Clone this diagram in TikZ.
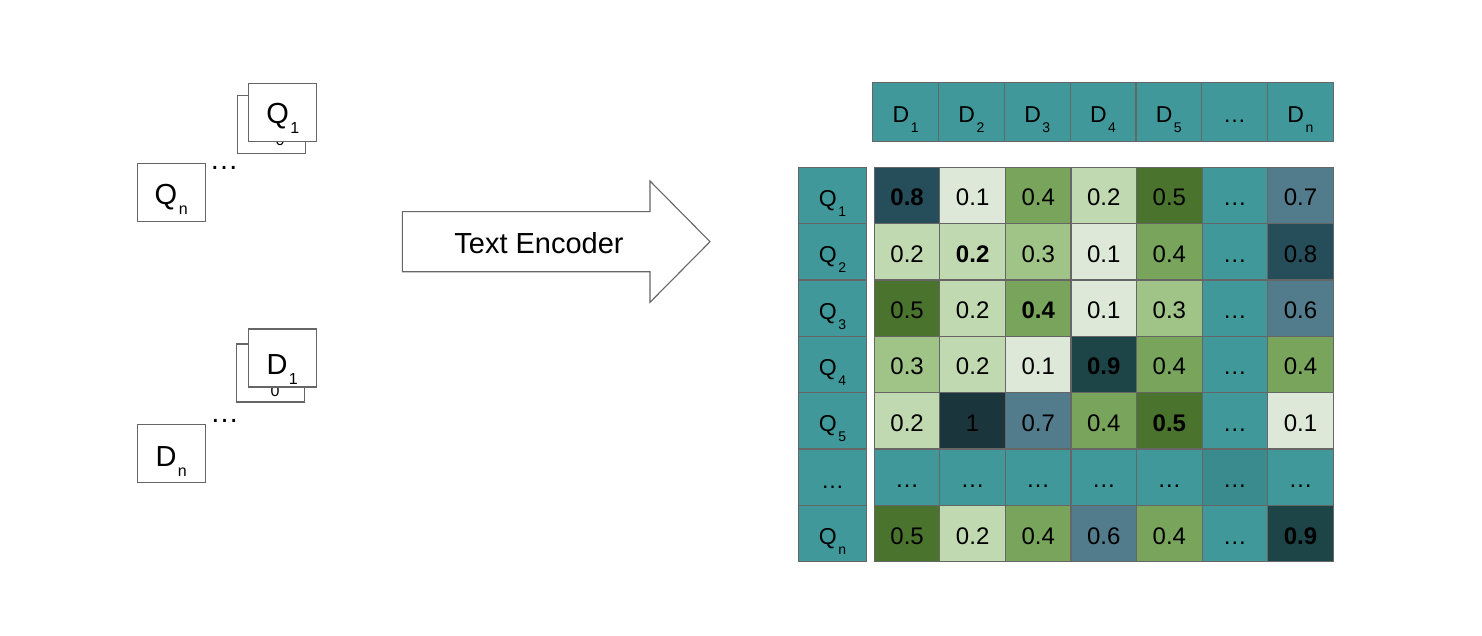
\documentclass[tikz,border=0pt]{standalone}
\usepackage{fontspec}
\setmainfont{Liberation Sans}
\definecolor{teal0}{HTML}{41989A}
\definecolor{teal1}{HTML}{3A8B8E}
\definecolor{v01}{HTML}{DEE8D8}
\definecolor{v02}{HTML}{C1D9B1}
\definecolor{v03}{HTML}{A0C487}
\definecolor{v04}{HTML}{79A45B}
\definecolor{v05}{HTML}{4A732E}
\definecolor{v06}{HTML}{527C8C}
\definecolor{v07}{HTML}{527C8C}
\definecolor{v08}{HTML}{264D5A}
\definecolor{v09}{HTML}{1D4447}
\definecolor{v10}{HTML}{1A353C}
\definecolor{edgegray}{HTML}{666666}
\newcommand\mylab[4]{#1\kern1.5pt\raisebox{-#4}{\fontsize{#3}{#3}\selectfont #2}}
\newcommand\B[1]{\textbf{#1}}
\begin{document}
\begin{tikzpicture}[x=1pt,y=-1pt,
  cellbox/.style={draw=edgegray, line width=1.2pt, minimum width=65.57pt, minimum height=56.34pt,
    inner sep=0pt, outer sep=0pt, text height=21pt, text depth=0pt, font=\fontsize{24}{28}\selectfont},
  qbox/.style={cellbox, fill=teal0, minimum width=68.4pt, text height=22pt, font=\fontsize{23}{27}\selectfont},
  dbox/.style={cellbox, fill=teal0, minimum width=65.8pt, minimum height=59pt, text height=22pt, font=\fontsize{23}{27}\selectfont},
  docbox/.style={draw=edgegray, line width=1.2pt, fill=white, minimum width=68pt, minimum height=58pt,
    inner sep=0pt, outer sep=0pt, text depth=0pt, font=\fontsize{29}{34}\selectfont},
  dotstext/.style={inner sep=0pt, anchor=base, font=\fontsize{29}{34}\selectfont},
  peek/.style={inner sep=0pt, anchor=base, font=\fontsize{16}{16}\selectfont},
  arrowshape/.style={draw=edgegray, line width=1.1pt, fill=white, line join=miter}
]
\useasboundingbox (0,0) rectangle (1482,636);

% --- query documents (left, top)
\node[docbox] (qback) at (271.5,124.2) {};
\node[peek] (qbacksub) at (280,146) {0};
\node[docbox, text height=22.2pt] (q1doc) at (282.8,112.2) {\mylab{Q}{1}{16}{10pt}};
\node[docbox, text height=24.4pt] (qndoc) at (171.2,192.8) {\mylab{Q}{n}{16}{10pt}};
\node[dotstext] (qdots) at (224,170) {…};

% --- corpus documents (left, bottom)
\node[docbox] (dback) at (270.8,373) {};
\node[peek] (dbacksub) at (275,396) {0};
\node[docbox, text height=32.6pt] (d1doc) at (282.2,358) {\mylab{D}{1}{16}{10pt}};
\node[docbox, text height=27pt] (dndoc) at (171.2,453.2) {\mylab{D}{n}{16}{10pt}};
\node[dotstext] (ddots) at (224.5,422.5) {…};

% --- encoder arrow
\draw[arrowshape] (402.3,211.7) -- (650,211.7) -- (650,181) -- (710,241.7) -- (650,302.3) -- (650,271.7) -- (402.3,271.7) -- cycle;
\node[inner sep=0pt, anchor=base, font=\fontsize{29}{34}\selectfont] (enc) at (539,253.3) {Text Encoder};

% --- header row D
\foreach \c/\s in {1/1,2/2,3/3,4/4,5/5,7/n}
  \node[dbox] (d\c) at ({872.7+(\c-0.5)*65.8},112) {\mylab{D}{\s}{14}{10pt}};
\node[dbox] (d6) at ({872.7+5.5*65.8},112) {…};

% --- query column
\foreach \r/\s in {1/1,2/2,3/3,4/4,5/5,7/n}
  \node[qbox] (q\r) at (832.5,{167.3+(\r-0.5)*56.34}) {\mylab{Q}{\s}{14}{10pt}};
\node[qbox] (q6) at (832.5,{167.3+5.5*56.34}) {…};

% --- score matrix
\foreach \r/\c/\col/\t in {
  1/1/v08/\B{0.8}, 1/2/v01/0.1, 1/3/v04/0.4, 1/4/v02/0.2, 1/5/v05/0.5, 1/6/teal0/…, 1/7/v07/0.7,
  2/1/v02/0.2, 2/2/v02/\B{0.2}, 2/3/v03/0.3, 2/4/v01/0.1, 2/5/v04/0.4, 2/6/teal0/…, 2/7/v08/0.8,
  3/1/v05/0.5, 3/2/v02/0.2, 3/3/v04/\B{0.4}, 3/4/v01/0.1, 3/5/v03/0.3, 3/6/teal0/…, 3/7/v06/0.6,
  4/1/v03/0.3, 4/2/v02/0.2, 4/3/v01/0.1, 4/4/v09/\B{0.9}, 4/5/v04/0.4, 4/6/teal0/…, 4/7/v04/0.4,
  5/1/v02/0.2, 5/2/v10/1, 5/3/v07/0.7, 5/4/v04/0.4, 5/5/v05/\B{0.5}, 5/6/teal0/…, 5/7/v01/0.1,
  6/1/teal0/…, 6/2/teal0/…, 6/3/teal0/…, 6/4/teal0/…, 6/5/teal0/…, 6/6/teal1/…, 6/7/teal0/…,
  7/1/v05/0.5, 7/2/v02/0.2, 7/3/v04/0.4, 7/4/v06/0.6, 7/5/v04/0.4, 7/6/teal0/…, 7/7/v09/\B{0.9}}
  \node[cellbox, fill=\col] (m-\r-\c) at ({874.3+(\c-0.5)*65.57},{167.3+(\r-0.5)*56.34}) {\t};
\end{tikzpicture}
\end{document}
